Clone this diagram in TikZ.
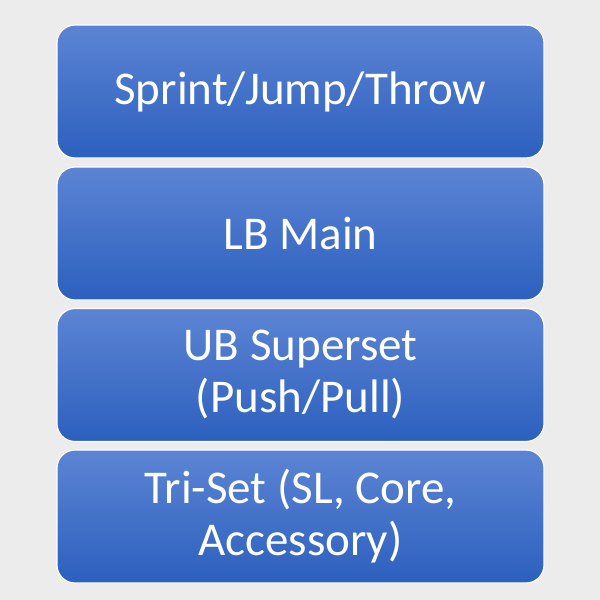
\documentclass[tikz,border=0pt]{standalone}
\usepackage{fontspec}
\setmainfont{Carlito}
\definecolor{bg}{RGB}{236,236,236}
\definecolor{boxtop}{RGB}{92,132,212}
\definecolor{boxbot}{RGB}{44,96,190}
\tikzset{
  blk/.style={rounded corners=18pt, draw=white, line width=1.2pt,
    top color=boxtop, bottom color=boxbot, minimum width=487pt, minimum height=133pt,
    text=white, font=\fontsize{47}{52}\selectfont, align=center, inner sep=0pt}
}
\begin{document}
\begin{tikzpicture}[x=1pt,y=-1pt]
\fill[bg] (0,0) rectangle (600,600);
\useasboundingbox (0,0) rectangle (600,600);
\node[blk] (a) at (300.5,91.5) {Sprint/Jump/Throw};
\node[blk] (b) at (300.5,233.5) {LB Main};
\node[blk] (c) at (300.5,375) {UB Superset\\(Push/Pull)};
\node[blk] (d) at (300.5,516.5) {Tri-Set (SL, Core,\\Accessory)};
\end{tikzpicture}
\end{document}
